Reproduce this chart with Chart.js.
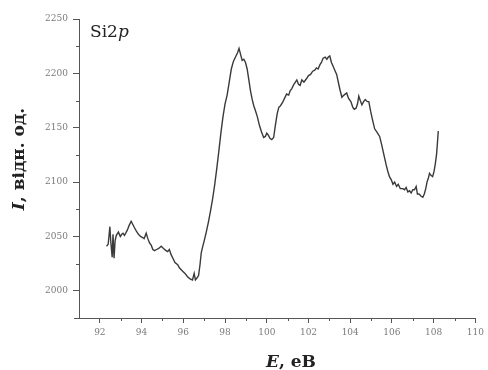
<!DOCTYPE html>
<html>
<head>
<meta charset="utf-8">
<script src="https://cdn.jsdelivr.net/npm/chart.js@4/dist/chart.umd.min.js"></script>
<style>
  html, body { margin: 0; padding: 0; background: #fff; }
  #wrap { width: 488px; height: 370px; position: relative; }
</style>
</head>
<body>
<div id="wrap"><canvas id="c"></canvas></div>
<script>
// Si2p spectrum: binding energy (eV) and intensity (arb. units)
const energy = [
  92.32, 92.40, 92.48, 92.52, 92.59, 92.63, 92.68, 92.73, 92.79, 92.89,
  92.98, 93.05, 93.11, 93.18, 93.24, 93.32, 93.40, 93.50, 93.58, 93.66,
  93.75, 93.85, 93.95, 94.05, 94.12, 94.22, 94.30, 94.38, 94.46, 94.54,
  94.62, 94.72, 94.82, 94.94, 95.05, 95.17, 95.25, 95.33, 95.42, 95.50,
  95.60, 95.73, 95.82, 95.97, 96.08, 96.20, 96.32, 96.44, 96.52, 96.58,
  96.66, 96.73, 96.80, 96.86, 96.92, 97.00, 97.10, 97.20, 97.30, 97.40,
  97.50, 97.60, 97.70, 97.80, 97.90, 98.00, 98.10, 98.20, 98.30, 98.40,
  98.50, 98.60, 98.67, 98.75, 98.82, 98.90, 98.98, 99.06, 99.14, 99.22,
  99.30, 99.38, 99.45, 99.55, 99.65, 99.75, 99.85, 99.93, 100.00, 100.08,
  100.16, 100.24, 100.33, 100.41, 100.50, 100.58, 100.65, 100.75, 100.85, 100.95,
  101.05, 101.12, 101.20, 101.30, 101.44, 101.52, 101.60, 101.68, 101.78, 101.90,
  102.00, 102.10, 102.20, 102.30, 102.38, 102.46, 102.55, 102.62, 102.70, 102.80,
  102.88, 102.95, 103.02, 103.10, 103.19, 103.28, 103.35, 103.45, 103.52, 103.60,
  103.70, 103.83, 103.92, 104.03, 104.12, 104.19, 104.28, 104.35, 104.41, 104.48,
  104.56, 104.64, 104.72, 104.82, 104.89, 104.98, 105.06, 105.17, 105.28, 105.41,
  105.50, 105.58, 105.65, 105.72, 105.80, 105.88, 105.97, 106.05, 106.13, 106.22,
  106.30, 106.40, 106.52, 106.60, 106.68, 106.76, 106.84, 106.92, 107.00, 107.08,
  107.16, 107.22, 107.30, 107.40, 107.48, 107.55, 107.62, 107.68, 107.75, 107.80,
  107.88, 107.95, 108.02, 108.08, 108.14, 108.18, 108.22
];
const intensity = [
  2041, 2043, 2059, 2046, 2031, 2052, 2030, 2046, 2051, 2054,
  2050, 2052, 2053, 2051, 2053, 2056, 2060, 2064, 2061, 2058,
  2055, 2052, 2050, 2049, 2048, 2053, 2048, 2044, 2042, 2038,
  2037, 2038, 2039, 2041, 2039, 2037, 2036, 2038, 2033, 2030,
  2026, 2024, 2021, 2018, 2016, 2013, 2011, 2010, 2016, 2010,
  2012, 2014, 2024, 2035, 2040, 2046, 2054, 2063, 2073, 2084,
  2097, 2112, 2128, 2145, 2160, 2172, 2180, 2192, 2204, 2211,
  2215, 2219, 2223, 2217, 2212, 2213, 2210, 2204, 2194, 2184,
  2176, 2170, 2166, 2160, 2152, 2146, 2141, 2142, 2145, 2143,
  2140, 2139, 2141, 2152, 2163, 2169, 2170, 2173, 2177, 2181,
  2180, 2184, 2186, 2190, 2194, 2190, 2189, 2194, 2192, 2195,
  2198, 2199, 2202, 2203, 2205, 2204, 2208, 2210, 2214, 2215,
  2213, 2215, 2216, 2210, 2206, 2202, 2199, 2190, 2184, 2178,
  2180, 2182, 2177, 2174, 2169, 2167, 2168, 2172, 2179, 2175,
  2171, 2174, 2176, 2174, 2174, 2165, 2158, 2149, 2146, 2142,
  2135, 2128, 2122, 2116, 2110, 2105, 2102, 2098, 2100, 2096,
  2098, 2094, 2094, 2093, 2095, 2091, 2092, 2090, 2093, 2093,
  2096, 2089, 2089, 2087, 2086, 2089, 2094, 2100, 2104, 2108,
  2106, 2105, 2110, 2117, 2126, 2136, 2147
];

// Axis ticks
const xMajorTicks = [92, 94, 96, 98, 100, 102, 104, 106, 108, 110];
const xMinorTicks = [93, 95, 97, 99, 101, 103, 105, 107, 109];
const yMajorTicks = [2000, 2050, 2100, 2150, 2200, 2250];
const yMinorTicks = [2025, 2075, 2125, 2175, 2225];

const AXIS_COLOR = '#555';
const TEXT_COLOR = '#222';

// Draws the short minor tick marks and the axis / panel captions
const decorations = {
  id: 'decorations',
  afterDraw(chart) {
    const ctx = chart.ctx;
    const xs = chart.scales.x, ys = chart.scales.y;
    const area = chart.chartArea;
    ctx.save();
    ctx.strokeStyle = AXIS_COLOR;
    ctx.lineWidth = 1;
    ctx.beginPath();
    xMinorTicks.forEach(v => {
      const px = Math.round(xs.getPixelForValue(v)) + 0.5;
      ctx.moveTo(px, area.bottom);
      ctx.lineTo(px, area.bottom + 3);
    });
    yMinorTicks.forEach(v => {
      const py = Math.round(ys.getPixelForValue(v)) + 0.5;
      ctx.moveTo(area.left, py);
      ctx.lineTo(area.left - 3, py);
    });
    // small stub of the x axis left of the origin
    ctx.moveTo(area.left - 5, area.bottom + 0.5);
    ctx.lineTo(area.left, area.bottom + 0.5);
    ctx.stroke();

    ctx.fillStyle = TEXT_COLOR;
    ctx.textBaseline = 'alphabetic';

    // panel label "Si2p"
    ctx.font = '17px "DejaVu Serif"';
    let x0 = area.left + 11;
    const yb = area.top + 18;
    ctx.fillText('Si2', x0, yb);
    x0 += ctx.measureText('Si2').width;
    ctx.font = 'italic 17px "DejaVu Serif"';
    ctx.fillText('p', x0, yb);

    // x axis title "E, eB"
    const bx = 'bold 17px "DejaVu Serif"', bix = 'italic bold 17px "DejaVu Serif"';
    ctx.font = bix; const wE = ctx.measureText('E').width;
    ctx.font = bx; const wRest = ctx.measureText(', eB').width;
    let tx = 291 - (wE + wRest) / 2;
    const ty = 367;
    ctx.font = bix; ctx.fillText('E', tx, ty);
    ctx.font = bx; ctx.fillText(', eB', tx + wE, ty);

    // y axis title "I, відн. од."
    ctx.translate(24, 159);
    ctx.rotate(-Math.PI / 2);
    const by = 'bold 17px "DejaVu Serif"', biy = 'italic bold 17px "DejaVu Serif"';
    ctx.font = biy; const wI = ctx.measureText('I').width;
    ctx.font = by; const wR = ctx.measureText(', відн. од.').width;
    const sx = -(wI + wR) / 2;
    ctx.font = biy; ctx.fillText('I', sx, 0);
    ctx.font = by; ctx.fillText(', відн. од.', sx + wI, 0);
    ctx.restore();
  }
};

new Chart(document.getElementById('c'), {
  type: 'line',
  data: {
    datasets: [{
      data: energy.map((e, i) => ({ x: e, y: intensity[i] })),
      borderColor: '#3a3a3a',
      borderWidth: 1.4,
      pointRadius: 0,
      tension: 0,
      fill: false
    }]
  },
  options: {
    responsive: true,
    maintainAspectRatio: false,
    animation: false,
    layout: { padding: { left: 0, top: 19, right: 10, bottom: 0 } },
    plugins: { legend: { display: false }, tooltip: { enabled: false } },
    scales: {
      x: {
        type: 'linear',
        min: 91,
        max: 110,
        afterBuildTicks: s => { s.ticks = xMajorTicks.map(v => ({ value: v })); },
        afterFit: s => { s.height = 52; },
        border: { display: true, color: AXIS_COLOR, width: 1 },
        grid: { display: true, drawOnChartArea: false, tickLength: 5, color: AXIS_COLOR, tickColor: AXIS_COLOR },
        ticks: {
          autoSkip: false,
          maxRotation: 0,
          padding: 4,
          color: '#7a7a7a',
          font: { family: '"DejaVu Serif"', size: 9 },
          callback: v => String(v)
        }
      },
      y: {
        type: 'linear',
        min: 1975,
        max: 2250,
        afterBuildTicks: s => { s.ticks = yMajorTicks.map(v => ({ value: v })); },
        afterFit: s => { s.width = 79; },
        border: { display: true, color: AXIS_COLOR, width: 1 },
        grid: { display: true, drawOnChartArea: false, tickLength: 6, color: AXIS_COLOR, tickColor: AXIS_COLOR },
        ticks: {
          padding: 5,
          color: '#7a7a7a',
          font: { family: '"DejaVu Serif"', size: 9 },
          callback: v => String(v)
        }
      }
    }
  },
  plugins: [decorations]
});
</script>
</body>
</html>
